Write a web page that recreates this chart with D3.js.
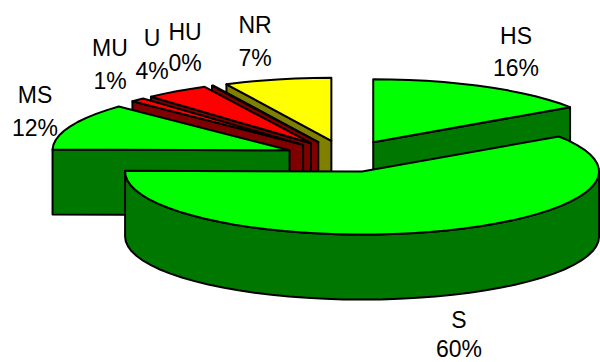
<!DOCTYPE html>
<html>
<head>
<meta charset="utf-8">
<script src="https://cdn.jsdelivr.net/npm/d3@7/dist/d3.min.js"></script>
<style>
  html, body { margin: 0; padding: 0; background: #fff; }
  svg { display: block; }
  text { font-family: "Liberation Sans", Arial, sans-serif; font-size: 23px; fill: #000; text-anchor: middle; }
</style>
</head>
<body>
<svg id="chart" width="600" height="362"></svg>
<script>
// Survey shares, clockwise from twelve o'clock
const categories = ["HS", "S", "MS", "MU", "U", "HU", "NR"];
const shares = [15.6, 59.6, 12.0, 1.0, 4.4, 0.1, 7.3];
const topColors = ["#00ff00", "#00ff00", "#00ff00", "#ff0000", "#ff0000", "#ff0000", "#ffff00"];
const wallColors = ["#007800", "#007800", "#007800", "#800000", "#800000", "#800000", "#808000"];

// Tilted-disc geometry of the exploded pie
const disc = { cx: 345, cy: 156.3, rx: 237, ry: 63, depth: 65, explode: 0.253, step: Math.PI / 40 };

// Label centres: first-line and second-line baselines
const labelPlace = {
  HS: [516, 44, 76], S: [459, 328, 357], MS: [35, 103, 136], MU: [110, 56, 89],
  U: [152, 46, 79], HU: [185, 40, 71], NR: [255, 33, 66]
};

const svg = d3.select("#chart");
const outline = d3.line();
const arcs = d3.pie().sort(null).value(d => d)(shares);
const total = d3.sum(shares);

// Map a pie angle and a radial fraction onto the tilted plane
const project = (origin, angle, r) => [
  origin[0] + Math.sin(angle) * disc.rx * r,
  origin[1] - Math.cos(angle) * disc.ry * r
];
const drop = p => [p[0], p[1] + disc.depth];

const slices = arcs.map((a, i) => {
  const mid = (a.startAngle + a.endAngle) / 2;
  return {
    i, name: categories[i], value: shares[i],
    start: a.startAngle, end: a.endAngle,
    origin: project([disc.cx, disc.cy], mid, disc.explode)
  };
});

function rim(s, from, to) {
  const n = Math.max(1, Math.ceil((to - from) / disc.step));
  return d3.range(n + 1).map(k => project(s.origin, from + (to - from) * k / n, 1));
}

function drawSlice(s) {
  const g = svg.append("g").attr("class", "slice-" + s.name);
  const poly = (pts, fill) => g.append("path")
    .attr("d", outline(pts) + "Z")
    .attr("fill", fill)
    .attr("stroke", "#000")
    .attr("stroke-width", 2)
    .attr("stroke-linejoin", "round");

  // Radial walls that face the viewer
  const tipStart = project(s.origin, s.start, 1);
  const tipEnd = project(s.origin, s.end, 1);
  if (Math.cos(s.end) > 0 && Math.sin(s.end) > 0) {
    poly([s.origin, tipEnd, drop(tipEnd), drop(s.origin)], wallColors[s.i]);
  }
  if (Math.sin(s.start) < 0) {
    poly([s.origin, tipStart, drop(tipStart), drop(s.origin)], wallColors[s.i]);
  }

  // Curved outer wall on the near half of the disc
  const from = Math.max(s.start, Math.PI / 2);
  const to = Math.min(s.end, 3 * Math.PI / 2);
  if (to > from) {
    const edge = rim(s, from, to);
    poly(edge.concat(edge.map(drop).reverse()), wallColors[s.i]);
  }

  // Top face
  poly([s.origin].concat(rim(s, s.start, s.end)), topColors[s.i]);
}

// Paint back to front so nearer slices cover farther ones
["HS", "NR", "HU", "U", "MU", "MS", "S"].forEach(name => {
  drawSlice(slices[categories.indexOf(name)]);
});

const pct = v => Math.round(v / total * 100) + "%";
slices.forEach(s => {
  const [x, y1, y2] = labelPlace[s.name];
  svg.append("text").attr("x", x).attr("y", y1).text(s.name);
  svg.append("text").attr("x", x).attr("y", y2).text(pct(s.value));
});
</script>
</body>
</html>
